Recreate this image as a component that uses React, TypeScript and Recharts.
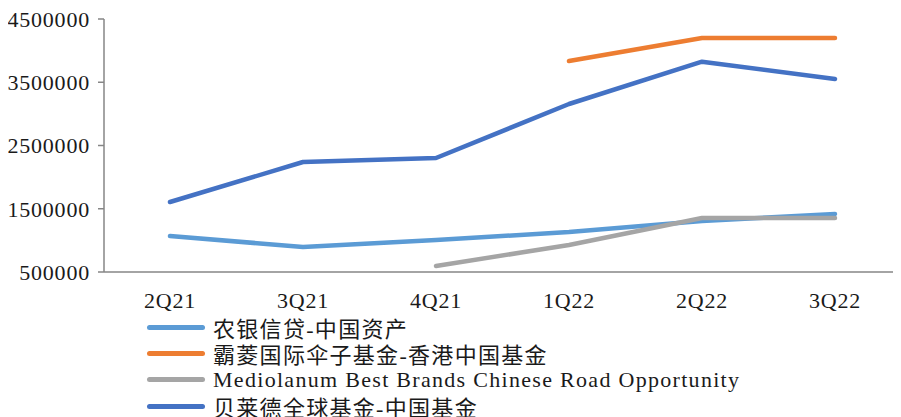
import { LineChart, Line, XAxis, YAxis } from "recharts";

const quarters = ["2Q21", "3Q21", "4Q21", "1Q22", "2Q22", "3Q22"];
const abcCredit = [1069000, 895000, 1006000, 1132000, 1306000, 1417000];
const barings = [null, null, null, 3836000, 4200000, 4200000];
const mediolanum = [null, null, 595000, 927000, 1354000, 1354000];
const blackrock = [1607000, 2239000, 2302000, 3156000, 3825000, 3551000];
const yTicks = [500000, 1500000, 2500000, 3500000, 4500000];

const series = [
  { key: "abc", name: "农银信贷-中国资产", color: "#5B9BD5", values: abcCredit },
  { key: "barings", name: "霸菱国际伞子基金-香港中国基金", color: "#ED7D31", values: barings },
  { key: "medio", name: "Mediolanum Best Brands Chinese Road Opportunity", color: "#A5A5A5", values: mediolanum },
  { key: "blk", name: "贝莱德全球基金-中国基金", color: "#4472C4", values: blackrock },
];

const data = quarters.map((q, i) => {
  const row: Record<string, string | number | null> = { name: q };
  series.forEach((s) => {
    row[s.key] = s.values[i];
  });
  return row;
});

const font = '"Liberation Serif", "Noto Sans CJK SC", serif';
const axisColor = "#868686";
const tickStyle = {
  fill: "#1a1a1a",
  fontSize: 22,
  fontFamily: font,
  style: { fontFamily: font, letterSpacing: 0.8 },
};

export default function App() {
  return (
    <div style={{ position: "relative", width: 893, height: 409, fontFamily: font }}>
      <LineChart
        width={893}
        height={320}
        data={data}
        style={{ fontFamily: font }}
        margin={{ top: 11, right: 0, left: 0, bottom: 0 }}
      >
        <XAxis
          dataKey="name"
          height={56}
          padding={{ left: 66, right: 66 }}
          stroke={axisColor}
          strokeWidth={1.5}
          tickLine={false}
          tickMargin={14}
          tick={tickStyle}
        />
        <YAxis
          width={96}
          domain={[500000, 4500000]}
          ticks={yTicks}
          interval={0}
          stroke={axisColor}
          strokeWidth={1.5}
          tickSize={6}
          tickMargin={8}
          tick={tickStyle}
        />
        {series.map((s) => (
          <Line
            key={s.key}
            dataKey={s.key}
            name={s.name}
            stroke={s.color}
            strokeWidth={4.5}
            strokeLinecap="round"
            strokeLinejoin="round"
            dot={false}
            activeDot={false}
            type="linear"
            isAnimationActive={false}
          />
        ))}
      </LineChart>
      <div style={{ position: "absolute", left: 139, top: 306 }}>
        {series.map((s) => (
          <div
            key={s.key}
            style={{
              display: "flex",
              alignItems: "center",
              height: 26.3,
              fontSize: 22,
              letterSpacing: 1.3,
              color: "#1a1a1a",
              whiteSpace: "nowrap",
            }}
          >
            <span
              style={{
                display: "inline-block",
                width: 58,
                height: 5,
                borderRadius: 3,
                background: s.color,
                marginRight: 8,
              }}
            />
            <span>{s.name}</span>
          </div>
        ))}
      </div>
    </div>
  );
}
